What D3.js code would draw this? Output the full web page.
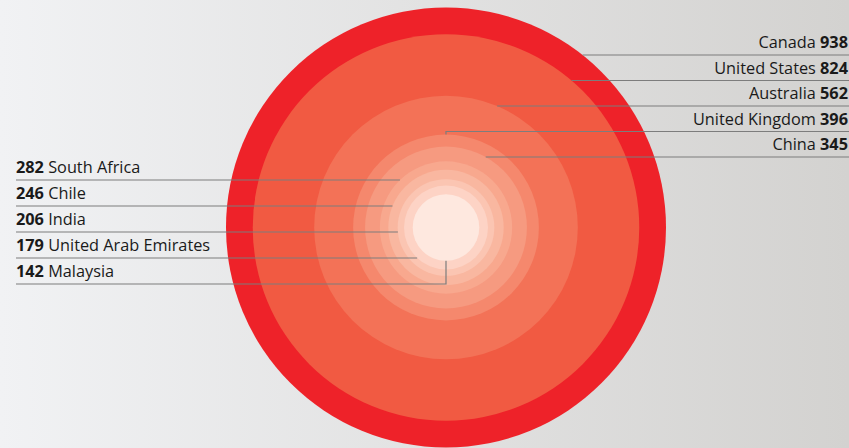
<!DOCTYPE html>
<html>
<head>
<meta charset="utf-8">
<script src="https://cdn.jsdelivr.net/npm/d3@7"></script>
<style>
  body { margin: 0; overflow: hidden; }
  svg { display: block; }
  text { font-family: "Open Sans", sans-serif; font-size: 16.3px; fill: #1a1a1a; }
  .num { font-weight: 700; }
  .leader { stroke: #7d7d7d; stroke-width: 1.2; fill: none; }
</style>
</head>
<body>
<svg id="chart" width="849" height="448"></svg>
<script>
// values, biggest first; first five are labelled on the right, rest on the left
var countries = ['Canada', 'United States', 'Australia', 'United Kingdom', 'China',
                 'South Africa', 'Chile', 'India', 'United Arab Emirates', 'Malaysia'];
var values = [938, 824, 562, 396, 345, 282, 246, 206, 179, 142];
var fills = ['#ee2229', '#f15a42', '#f37257', '#f5886d', '#f69a80',
             '#f8a88e', '#f9b7a0', '#fbc5b2', '#fdd3c5', '#fee8df'];

var width = 849, height = 448,
    cx = 446, cy = 227.5;

var data = countries.map(function(c, i) { return { name: c, value: values[i], fill: fills[i] }; });
var right = data.slice(0, 5),
    left = data.slice(5);

var svg = d3.select('#chart');

var grad = svg.append('defs').append('linearGradient')
    .attr('id', 'bg').attr('x1', 0).attr('x2', 1).attr('y1', 0).attr('y2', 0);
grad.append('stop').attr('offset', 0).attr('stop-color', '#f1f2f4');
grad.append('stop').attr('offset', 1).attr('stop-color', '#d3d2d0');

svg.append('rect').attr('width', width).attr('height', height).attr('fill', 'url(#bg)');

var r = d3.scaleLinear()
    .domain([0, d3.max(values)])
    .range([0, 220]);

svg.append('g').selectAll('circle')
    .data(data)
  .enter().append('circle')
    .attr('cx', cx)
    .attr('cy', cy)
    .attr('r', function(d) { return r(d.value); })
    .attr('fill', function(d) { return d.fill; });

var yRight = d3.scalePoint().domain(right.map(function(d) { return d.name; })).range([48, 150]);
var yLeft = d3.scalePoint().domain(left.map(function(d) { return d.name; })).range([173, 277]);
var lineGap = 7;

// where a horizontal row meets its circle; if it passes above, drop down to the top
function leaderPath(d, y, side) {
  var rad = r(d.value), dy = y - cy;
  if (Math.abs(dy) < rad) {
    var x = cx + side * Math.sqrt(rad * rad - dy * dy);
    return side > 0 ? 'M' + x + ',' + y + 'H' + width : 'M16,' + y + 'H' + x;
  }
  var yEdge = cy + (dy < 0 ? -rad : rad);
  return side > 0 ? 'M' + width + ',' + y + 'H' + cx + 'V' + yEdge
                  : 'M16,' + y + 'H' + cx + 'V' + yEdge;
}

svg.append('g').selectAll('path')
    .data(right)
  .enter().append('path')
    .attr('class', 'leader')
    .attr('d', function(d) { return leaderPath(d, yRight(d.name) + lineGap, 1); });

svg.append('g').selectAll('path')
    .data(left)
  .enter().append('path')
    .attr('class', 'leader')
    .attr('d', function(d) { return leaderPath(d, yLeft(d.name) + lineGap, -1); });

var rt = svg.append('g').selectAll('text')
    .data(right)
  .enter().append('text')
    .attr('x', 848)
    .attr('y', function(d) { return yRight(d.name); })
    .attr('text-anchor', 'end');
rt.append('tspan').text(function(d) { return d.name + ' '; });
rt.append('tspan').attr('class', 'num').text(function(d) { return d.value; });

var lt = svg.append('g').selectAll('text')
    .data(left)
  .enter().append('text')
    .attr('x', 16)
    .attr('y', function(d) { return yLeft(d.name); });
lt.append('tspan').attr('class', 'num').text(function(d) { return d.value; });
lt.append('tspan').text(function(d) { return ' ' + d.name; });
</script>
</body>
</html>
